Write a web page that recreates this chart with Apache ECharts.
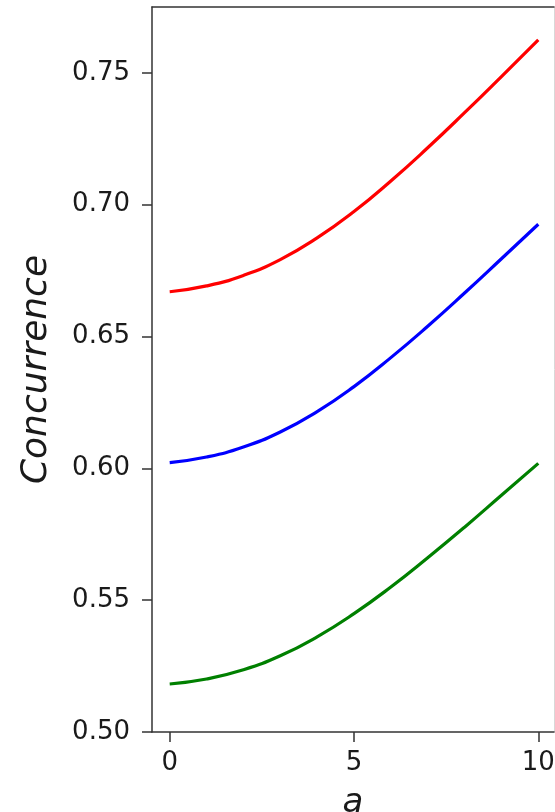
<!DOCTYPE html>
<html>
<head>
<meta charset="utf-8">
<script src="https://cdn.jsdelivr.net/npm/echarts@6/dist/echarts.min.js"></script>
<style>html,body{margin:0;padding:0;background:#fff;}#chart{width:555px;height:812px;}</style>
</head>
<body>
<div id="chart"></div>
<script>
var aValues = [0, 1, 2, 3, 4, 5, 6, 7, 8, 9, 10];
var redValues = [0.6670, 0.6692, 0.6732, 0.6792, 0.6874, 0.6974, 0.7090, 0.7216, 0.7349, 0.7486, 0.7625];
var blueValues = [0.6022, 0.6043, 0.6081, 0.6138, 0.6215, 0.6310, 0.6420, 0.6539, 0.6665, 0.6795, 0.6926];
var greenValues = [0.5182, 0.5201, 0.5236, 0.5289, 0.5361, 0.5449, 0.5550, 0.5661, 0.5777, 0.5898, 0.6019];
var xTicks = [0, 5, 10];
var yTicks = [0.50, 0.55, 0.60, 0.65, 0.70, 0.75];
var xName = 'a';
var yName = 'Concurrence';

function pairs(ys) { return aValues.map(function (a, i) { return [a, ys[i]]; }); }

var chart = echarts.init(document.getElementById('chart'), null, {renderer: 'canvas'});
var tickFont = {fontFamily: 'DejaVu Sans', fontSize: 26, color: '#1a1a1a'};
var axisColor = '#333';
chart.setOption({
  animation: false,
  backgroundColor: '#fff',
  grid: {left: 152, top: 7, right: 1, bottom: 80, show: false, outerBoundsMode: 'none'},
  xAxis: [{
    type: 'value', min: -0.48, max: 10.426,
    name: xName, nameLocation: 'middle', nameGap: 54,
    nameTextStyle: {fontFamily: 'DejaVu Sans', fontStyle: 'italic', fontSize: 34, color: '#1a1a1a'},
    axisLine: {show: true, onZero: false, lineStyle: {color: axisColor, width: 1.5}},
    axisTick: {show: true, length: 10, customValues: xTicks, lineStyle: {color: axisColor, width: 1.5}},
    axisLabel: Object.assign({margin: 18, customValues: xTicks, formatter: function (v) { return String(v); }}, tickFont),
    splitLine: {show: false}
  }, {
    type: 'value', position: 'top', min: -0.48, max: 10.426,
    axisLine: {show: true, onZero: false, lineStyle: {color: axisColor, width: 1.5}},
    axisTick: {show: false}, axisLabel: {show: false}, splitLine: {show: false}
  }],
  yAxis: [{
    type: 'value', min: 0.5, max: 0.775,
    name: yName, nameLocation: 'middle', nameGap: 97, nameRotate: 90,
    nameTextStyle: {fontFamily: 'DejaVu Sans', fontStyle: 'italic', fontSize: 36, color: '#1a1a1a'},
    axisLine: {show: true, onZero: false, lineStyle: {color: axisColor, width: 1.5}},
    axisTick: {show: true, length: 10, customValues: yTicks, lineStyle: {color: axisColor, width: 1.5}},
    axisLabel: Object.assign({margin: 22, customValues: yTicks, formatter: function (v) { return v.toFixed(2); }}, tickFont),
    splitLine: {show: false}
  }, {
    type: 'value', position: 'right', min: 0.5, max: 0.775,
    axisLine: {show: true, onZero: false, lineStyle: {color: '#d8d8d8', width: 1}},
    axisTick: {show: false}, axisLabel: {show: false}, splitLine: {show: false}
  }],
  series: [
    {type: 'line', data: pairs(redValues), smooth: true, showSymbol: false, lineStyle: {color: '#ff0000', width: 3.2}},
    {type: 'line', data: pairs(blueValues), smooth: true, showSymbol: false, lineStyle: {color: '#0000ff', width: 3.2}},
    {type: 'line', data: pairs(greenValues), smooth: true, showSymbol: false, lineStyle: {color: '#008000', width: 3.2}}
  ]
});
</script>
</body>
</html>
